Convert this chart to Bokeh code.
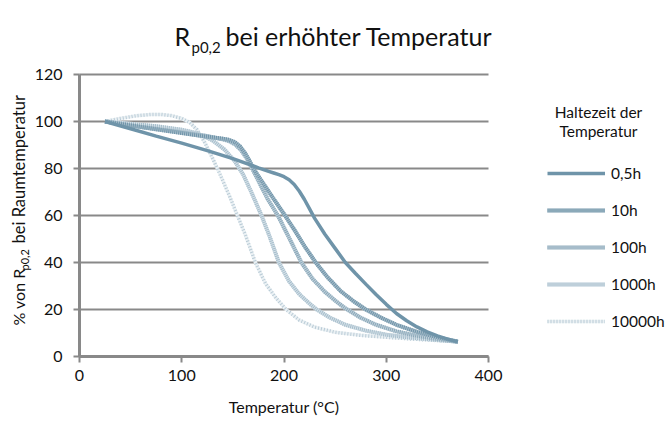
from math import pi
from bokeh.plotting import figure
from bokeh.models import Range1d, FixedTicker, Label, Legend, LegendItem
from bokeh.embed import file_html
from bokeh.resources import INLINE

# ---------------- data ----------------
x_ticks = [0, 100, 200, 300, 400]
y_ticks = [0, 20, 40, 60, 80, 100, 120]

temp_05h = [25, 50, 75, 100, 125, 150, 175, 185, 190, 195, 200, 205, 210, 215, 220, 225, 230, 240, 250, 260, 270, 280, 290, 300, 310, 320, 330, 340, 350, 360, 370]
val_05h = [100, 96.9, 93.8, 90.8, 87.6, 84.2, 80.3, 78.8, 78.1, 77.4, 76.5, 75.2, 73.2, 70.3, 66.8, 62.8, 58.8, 52.0, 46.0, 40.0, 35.3, 30.8, 26.4, 22.2, 18.3, 15.2, 12.6, 10.5, 8.8, 7.4, 6.3]

temp_10h = [25, 50, 75, 100, 125, 140, 146, 152, 157, 162, 166, 170, 180, 190, 201, 210, 220, 231, 242, 255, 268, 280, 295, 310, 330, 350, 370]
val_10h = [100, 98.3, 96.7, 95.1, 93.5, 92.7, 92.2, 91.2, 89.4, 86.5, 83.5, 80.0, 73.5, 67.0, 60.0, 54.0, 47.0, 40.0, 34.0, 28.0, 23.5, 20.0, 16.5, 13.5, 10.5, 8.2, 6.3]

temp_100h = [25, 50, 75, 100, 125, 140, 146, 152, 158, 164, 170, 177, 184, 194, 205, 217, 228, 240, 250, 260, 275, 290, 310, 330, 350, 370]
val_100h = [100, 98.4, 96.9, 95.4, 93.8, 92.4, 91.7, 90.3, 87.8, 84.0, 79.0, 73.0, 67.0, 60.0, 50.5, 40.0, 33.0, 27.5, 23.8, 20.5, 16.5, 13.5, 10.7, 8.8, 7.4, 6.3]

temp_1000h = [25, 50, 75, 100, 115, 130, 142, 152, 160, 168, 178, 186, 195, 205, 215, 225, 232, 245, 260, 280, 300, 320, 345, 370]
val_1000h = [100, 99.0, 98.0, 96.5, 95.0, 92.0, 88.0, 83.0, 77.5, 70.0, 60.0, 51.0, 40.0, 32.0, 26.5, 22.5, 20.0, 16.5, 13.5, 11.0, 9.3, 8.2, 7.2, 6.3]

temp_10000h = [25, 40, 55, 70, 80, 90, 100, 108, 115, 122, 130, 138, 146, 154, 162, 172, 182, 192, 202, 215, 230, 250, 275, 300, 330, 370]
val_10000h = [100, 101.3, 102.4, 103.0, 103.0, 102.5, 101.3, 99.5, 96.5, 91.5, 84.5, 77.0, 69.0, 60.5, 52.0, 40.0, 31.0, 25.0, 20.0, 15.5, 12.5, 10.3, 9.0, 8.2, 7.3, 6.3]

series_labels = ["0,5h", "10h", "100h", "1000h", "10000h"]

# ---------------- layout ----------------
FONT = "Lato"
TXT = "#111111"
GRID = "#898989"
W, H = 666, 421
FL, FR, FT, FB = 79, 488, 74, 356   # plot-area edges in canvas pixels


def wx(px):
    return (px - FL) / (FR - FL) * 400


def wy(py):
    return (FB - py) / (FB - FT) * 120


p = figure(width=W, height=H, output_backend="svg", toolbar_location=None,
           x_range=Range1d(wx(0), wx(W)), y_range=Range1d(wy(H), wy(0)),
           min_border=0)
p.outline_line_color = None
p.background_fill_color = "white"
p.border_fill_color = "white"

p.xgrid.visible = False
p.ygrid.visible = False
# horizontal grid lines at the y ticks, spanning the x-axis extent
p.segment(x0=[x_ticks[0]] * len(y_ticks), x1=[x_ticks[-1]] * len(y_ticks),
          y0=y_ticks, y1=y_ticks, line_color=GRID, line_width=2)

for ax, ticks in ((p.xaxis[0], x_ticks), (p.yaxis[0], y_ticks)):
    ax.ticker = FixedTicker(ticks=ticks)
    ax.bounds = (ticks[0], ticks[-1])
    ax.axis_line_color = GRID
    ax.axis_line_width = 3
    ax.major_tick_line_color = GRID
    ax.major_tick_line_width = 2
    ax.major_tick_out = 6
    ax.major_tick_in = 0
    ax.minor_tick_line_color = None
    ax.major_label_text_font = FONT
    ax.major_label_text_font_size = "16px"
    ax.major_label_text_color = TXT
p.yaxis[0].fixed_location = x_ticks[0]
p.xaxis[0].fixed_location = y_ticks[0]
p.yaxis[0].major_label_standoff = 11
p.xaxis[0].major_label_standoff = 7

# ---------------- series ----------------
base_col = "#6f94a9"
textured = [
    (temp_10h, val_10h, "#a7bdca", "#6f94a9", "1 1", 4),
    (temp_100h, val_100h, "#c1d2dc", "#8aa7b8", "1 1", 4),
    (temp_1000h, val_1000h, "#d6e2e9", "#a6bdcb", "1 1", 4),
    (temp_10000h, val_10000h, "#ebf1f4", "#b9cbd6", "1 2", 3.5),
]
renders = {}
for (xs, ys, c_base, c_dot, dash, lw), lab in zip(textured[::-1], series_labels[1:][::-1]):
    r1 = p.line(xs, ys, line_color=c_base, line_width=lw)
    r2 = p.line(xs, ys, line_color=c_dot, line_width=lw, line_dash=dash)
    renders[lab] = [r1, r2]
renders[series_labels[0]] = [p.line(temp_05h, val_05h, line_color=base_col, line_width=3.5)]

items = [LegendItem(label=lab, renderers=renders[lab]) for lab in series_labels]
legend = Legend(items=items, location=(547, H - 331),
                glyph_width=58, glyph_height=20, label_height=20,
                spacing=17, padding=0, margin=0, label_standoff=6,
                label_text_font=FONT, label_text_font_size="15.5px",
                label_text_color=TXT, border_line_color=None,
                background_fill_alpha=0)
p.add_layout(legend, "center")


# ---------------- texts ----------------
def lab(text, px, py, size, angle=0, align="left"):
    # px, py: text start (or centre) and baseline in canvas pixels
    if angle:
        px = px - 0.42 * size
    else:
        py = py - 0.42 * size
    p.add_layout(Label(x=wx(px), y=wy(py), text=text, text_font=FONT,
                       text_font_size=f"{size}px", text_align=align,
                       text_baseline="alphabetic", angle=angle,
                       text_color=TXT))


# title  R_p0,2 bei erhöhter Temperatur
lab("R", 174, 46, 25)
lab("p0,2", 191, 53, 15)
lab("bei erhöhter Temperatur", 225, 46, 25)

# y axis title  % von R_p0,2 bei Raumtemperatur
lab("% von R", 25, 325, 16, angle=pi / 2)
lab("p0,2", 29, 270, 11, angle=pi / 2)
lab("bei Raumtemperatur", 25, 243, 16.5, angle=pi / 2)

# x axis title
lab("Temperatur (°C)", (FL + FR) / 2, 413, 16, align="center")

# legend title
lab("Haltezeit der", 598, 118, 15.5, align="center")
lab("Temperatur", 598, 137, 15.5, align="center")

open("out.html", "w").write(file_html(p, INLINE))
